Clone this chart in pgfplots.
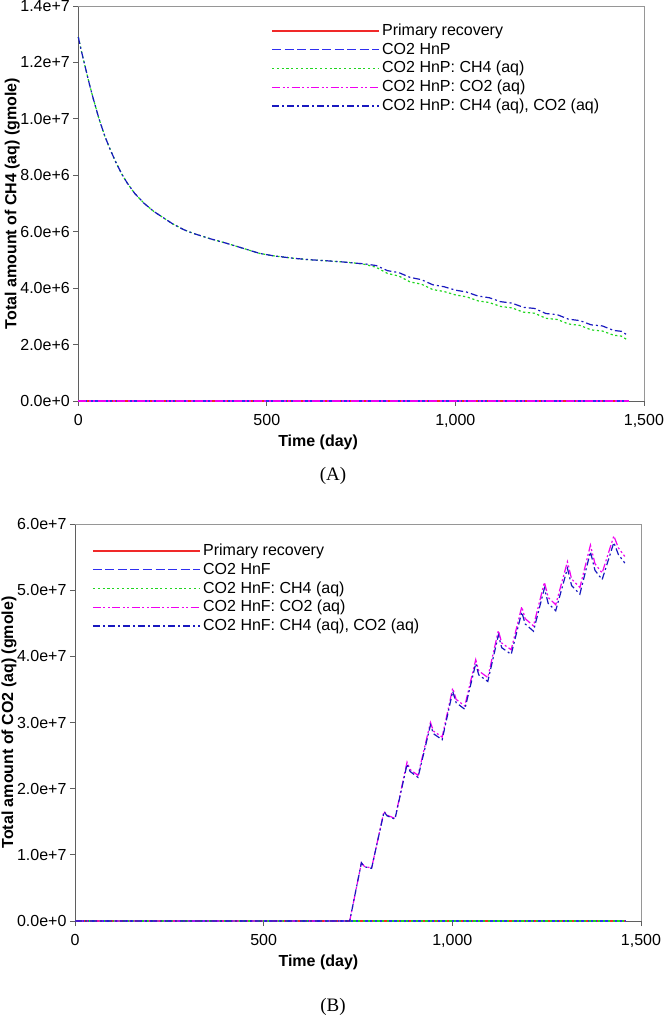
\documentclass[border=0pt]{standalone}
\usepackage{fontspec}
\setmainfont{Liberation Sans}
\newfontfamily\capfont{Liberation Serif}
\usepackage{pgfplots}
\pgfplotsset{compat=1.18}
\definecolor{cred}{rgb}{0.94,0.16,0.16}
\definecolor{cblue}{rgb}{0.18,0.18,0.94}
\definecolor{cgreen}{rgb}{0.12,0.84,0.12}
\definecolor{cmag}{rgb}{0.94,0.0,0.94}
\definecolor{cnavy}{rgb}{0.10,0.10,0.75}
\definecolor{axgray}{RGB}{95,95,95}
\definecolor{boxgray}{RGB}{150,150,150}
\tikzset{
  sPrim/.style={draw=cred, solid, line width=1.2pt},
  sHn/.style={draw=cblue, line width=1.2pt, dash pattern=on 9pt off 3.5pt},
  sCH/.style={draw=cgreen, line width=1.2pt, dash pattern=on 2.2pt off 2.6pt},
  sCO/.style={draw=cmag, line width=1.2pt, dash pattern=on 8pt off 2.5pt on 2pt off 2.5pt on 2pt off 2.5pt},
  sBoth/.style={draw=cnavy, line width=1.2pt, dash pattern=on 7pt off 3pt on 2pt off 3pt},
  legtxt/.style={anchor=base west, inner sep=0pt, font=\fontsize{16}{18}\selectfont},
}
\pgfplotsset{
  mystyle/.style={
    scale only axis, axis lines*=left,
    axis line style={axgray, line width=0.8pt},
    tick align=outside, major tick length=5pt,
    tick style={axgray, line width=0.8pt},
    scaled y ticks=false, scaled x ticks=false,
    xmin=0, xmax=1500, xtick={0,500,1000,1500},
    xticklabels={0,500,{1,000},{1,500}},
    tick label style={font=\fontsize{16}{18}\selectfont},
    xticklabel style={yshift=-5pt},
    label style={font=\bfseries\fontsize{16}{18}\selectfont},
    clip=false,
    extra description/.code={\draw[boxgray, line width=0.8pt] (rel axis cs:0,1) -- (rel axis cs:1,1) -- (rel axis cs:1,0);},
  },
}
\begin{document}
\begin{tikzpicture}
\useasboundingbox (0,0) rectangle (664pt,1017pt);
% ---------------- Panel A ----------------
\begin{axis}[mystyle,
  at={(78.3pt,616pt)}, anchor=south west,
  width=565.6pt, height=395pt,
  ymin=0, ymax=14e6,
  ytick={0,2e6,4e6,6e6,8e6,10e6,12e6,14e6},
  yticklabels={0.0e+0,2.0e+6,4.0e+6,6.0e+6,8.0e+6,1.0e+7,1.2e+7,1.4e+7},
  xlabel={Time (day)}, ylabel={Total amount of CH4 (aq) (gmole)},
  xlabel style={at={(axis description cs:0.424,0)}, anchor=center, yshift=-41pt},
  ylabel style={at={([xshift=-66pt]axis description cs:0,0.5)}, anchor=center},
]
\addplot[sPrim] coordinates {(0,0) (1461,0)};
\addplot[sHn] coordinates {(0,0) (1461,0)};
\addplot[sCH] table {
t v
0 12.90e6
10 12.30e6
20 11.75e6
30 11.20e6
40 10.70e6
55 10.00e6
70 9.40e6
85 8.90e6
100 8.45e6
115 8.05e6
130 7.72e6
150 7.35e6
175 7.00e6
200 6.72e6
225 6.50e6
250 6.28e6
280 6.07e6
305 5.94e6
350 5.75e6
393 5.59e6
440 5.40e6
481 5.23e6
520 5.14e6
570 5.06e6
610 5.01e6
658 4.97e6
700 4.93e6
740 4.88e6
760 4.84e6
790 4.74e6
820 4.52e6
850 4.43e6
880 4.22e6
910 4.14e6
940 3.95e6
970 3.88e6
1000 3.76e6
1030 3.69e6
1060 3.55e6
1090 3.49e6
1120 3.35e6
1150 3.30e6
1180 3.15e6
1210 3.11e6
1240 2.93e6
1270 2.89e6
1300 2.73e6
1330 2.68e6
1360 2.52e6
1390 2.48e6
1420 2.33e6
1440 2.30e6
1458 2.15e6
};
\addplot[sCO] coordinates {(0,0) (1461,0)};
\addplot[sBoth] table {
t v
0 12.90e6
10 12.30e6
20 11.75e6
30 11.20e6
40 10.70e6
55 10.00e6
70 9.40e6
85 8.90e6
100 8.45e6
115 8.05e6
130 7.72e6
150 7.35e6
175 7.00e6
200 6.72e6
225 6.50e6
250 6.28e6
280 6.07e6
305 5.94e6
350 5.75e6
393 5.59e6
440 5.40e6
481 5.23e6
520 5.14e6
570 5.06e6
610 5.01e6
658 4.97e6
700 4.93e6
740 4.88e6
760 4.86e6
790 4.80e6
820 4.62e6
850 4.55e6
880 4.38e6
910 4.30e6
940 4.12e6
970 4.05e6
1000 3.93e6
1030 3.86e6
1060 3.72e6
1090 3.66e6
1120 3.52e6
1150 3.47e6
1180 3.32e6
1210 3.28e6
1240 3.10e6
1270 3.06e6
1300 2.90e6
1330 2.85e6
1360 2.70e6
1390 2.66e6
1420 2.50e6
1440 2.47e6
1458 2.32e6
};
% legend keys
\addplot[sPrim] coordinates {(513.7,13.114e6) (797.5,13.114e6)};
\addplot[sHn]   coordinates {(513.7,12.449e6) (797.5,12.449e6)};
\addplot[sCH]   coordinates {(513.7,11.785e6) (797.5,11.785e6)};
\addplot[sCO]   coordinates {(513.7,11.120e6) (797.5,11.120e6)};
\addplot[sBoth] coordinates {(513.7,10.455e6) (797.5,10.455e6)};
\node[legtxt] at ([yshift=-4.5pt]axis cs:805.4,13.114e6) {Primary recovery};
\node[legtxt] at ([yshift=-4.5pt]axis cs:805.4,12.449e6) {CO2 HnP};
\node[legtxt] at ([yshift=-4.5pt]axis cs:805.4,11.785e6) {CO2 HnP: CH4 (aq)};
\node[legtxt] at ([yshift=-4.5pt]axis cs:805.4,11.120e6) {CO2 HnP: CO2 (aq)};
\node[legtxt] at ([yshift=-4.5pt]axis cs:805.4,10.455e6) {CO2 HnP: CH4 (aq), CO2 (aq)};
\end{axis}
\node[font=\capfont\fontsize{19}{22}\selectfont] at (333pt,541pt) {(A)};
% ---------------- Panel B ----------------
\begin{axis}[mystyle,
  at={(75pt,96pt)}, anchor=south west,
  width=566pt, height=397pt,
  ymin=0, ymax=60e6,
  ytick={0,10e6,20e6,30e6,40e6,50e6,60e6},
  yticklabels={0.0e+0,1.0e+7,2.0e+7,3.0e+7,4.0e+7,5.0e+7,6.0e+7},
  xlabel={Time (day)}, ylabel={Total amount of CO2 (aq) (gmole)},
  xlabel style={at={(axis description cs:0.43,0)}, anchor=center, yshift=-41pt},
  ylabel style={at={([xshift=-66pt]axis description cs:0,0.5)}, anchor=center},
]
\addplot[sPrim] coordinates {(0,0) (1461,0)};
\addplot[sHn] coordinates {(0,0) (1461,0)};
\addplot[sCH] coordinates {(0,0) (1461,0)};
\addplot[sCO] table {
t v
0 0
728 0
759 8.8e6
767 8.25e6
786 8.0e6
819 16.6e6
827 16.0e6
848 15.5e6
880 24.0e6
888 22.9e6
909 22.0e6
942 30.0e6
950 28.7e6
973 27.8e6
1001 35.2e6
1010 33.5e6
1033 32.5e6
1062 39.5e6
1070 37.8e6
1094 36.8e6
1122 43.9e6
1131 42.0e6
1156 41.0e6
1184 47.5e6
1193 45.7e6
1215 44.6e6
1244 51.2e6
1254 48.9e6
1274 47.8e6
1305 54.3e6
1316 51.7e6
1338 50.4e6
1366 56.8e6
1378 54.0e6
1397 52.6e6
1428 58.2e6
1440 56.4e6
1457 55.1e6
};
\addplot[sBoth] table {
t v
0 0
728 0
759 8.8e6
767 8.2e6
786 7.96e6
819 16.5e6
827 15.9e6
848 15.4e6
880 23.7e6
888 22.6e6
909 21.7e6
942 29.6e6
950 28.3e6
973 27.4e6
1001 34.7e6
1010 33.0e6
1033 32.0e6
1062 38.9e6
1070 37.2e6
1094 36.2e6
1122 43.2e6
1131 41.3e6
1156 40.3e6
1184 46.7e6
1193 44.9e6
1215 43.8e6
1244 50.3e6
1254 48.0e6
1274 46.9e6
1305 53.3e6
1316 50.7e6
1338 49.4e6
1366 55.8e6
1378 53.0e6
1397 51.6e6
1428 57.2e6
1440 55.4e6
1457 54.1e6
};
% legend keys
\addplot[sPrim] coordinates {(47.7,55.920e6) (331.3,55.920e6)};
\addplot[sHn]   coordinates {(47.7,53.088e6) (331.3,53.088e6)};
\addplot[sCH]   coordinates {(47.7,50.250e6) (331.3,50.250e6)};
\addplot[sCO]   coordinates {(47.7,47.418e6) (331.3,47.418e6)};
\addplot[sBoth] coordinates {(47.7,44.586e6) (331.3,44.586e6)};
\node[legtxt] at ([yshift=-4.5pt]axis cs:339.2,55.920e6) {Primary recovery};
\node[legtxt] at ([yshift=-4.5pt]axis cs:339.2,53.088e6) {CO2 HnF};
\node[legtxt] at ([yshift=-4.5pt]axis cs:339.2,50.250e6) {CO2 HnF: CH4 (aq)};
\node[legtxt] at ([yshift=-4.5pt]axis cs:339.2,47.418e6) {CO2 HnF: CO2 (aq)};
\node[legtxt] at ([yshift=-4.5pt]axis cs:339.2,44.586e6) {CO2 HnF: CH4 (aq), CO2 (aq)};
\end{axis}
\node[font=\capfont\fontsize{19}{22}\selectfont] at (333pt,10pt) {(B)};
\end{tikzpicture}
\end{document}
